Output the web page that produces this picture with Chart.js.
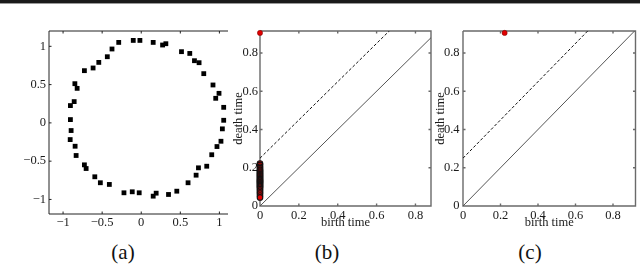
<!DOCTYPE html>
<html>
<head>
    <title>Point cloud and persistence diagrams</title>
    <script src="https://cdn.jsdelivr.net/npm/chart.js@4.4.0/dist/chart.umd.min.js"></script>
    <style>
        body {
            margin: 0;
            width: 640px;
            height: 268px;
            background: white;
            position: relative;
            overflow: hidden;
            font-family: "Liberation Serif", "Times New Roman", serif;
        }
        .topbar {
            position: absolute;
            left: 0; top: 0;
            width: 640px; height: 3px;
            background: #1a1a1a;
            border-bottom: 1px solid #9a9a9a;
        }
        canvas {
            position: absolute;
            top: 0;
        }
        .cap {
            position: absolute;
            top: 241px;
            width: 40px;
            text-align: center;
            font-size: 21px;
            line-height: 22px;
            color: #111;
        }
    </style>
</head>
<body>
    <div class="topbar"></div>
    <canvas id="chartA" width="235" height="230" style="left:0px"></canvas>
    <canvas id="chartB" width="209" height="230" style="left:231px"></canvas>
    <canvas id="chartC" width="207" height="230" style="left:433px"></canvas>
    <div class="cap" style="left:103px">(a)</div>
    <div class="cap" style="left:307px">(b)</div>
    <div class="cap" style="left:510px">(c)</div>

    <script>
        // (a) sampled points around the circle
        const cloudX = [-0.288, -0.102, -0.017, 0.153, 0.273, 0.315, 0.515, 0.621, 0.681, 0.740,
                        0.800, 0.918, 0.953, 0.995, 1.055, 1.055, 1.038, 1.020, 0.969, 0.902,
                        0.838, 0.732, 0.702, 0.599, 0.455, 0.349, 0.191, 0.153, -0.026, -0.115,
                        -0.221, -0.408, -0.523, -0.594, -0.705, -0.727, -0.833, -0.846, -0.909, -0.897,
                        -0.906, -0.906, -0.858, -0.820, -0.849, -0.727, -0.616, -0.543, -0.434, -0.374];
        const cloudY = [1.051, 1.077, 1.077, 1.051, 1.017, 1.034, 0.930, 0.907, 0.812, 0.786,
                        0.643, 0.495, 0.321, 0.386, 0.203, 0.034, -0.078, -0.240, -0.309, -0.416,
                        -0.566, -0.587, -0.683, -0.782, -0.892, -0.935, -0.918, -0.957, -0.913, -0.900,
                        -0.913, -0.804, -0.782, -0.704, -0.596, -0.548, -0.426, -0.305, -0.218, -0.100,
                        0.043, 0.226, 0.278, 0.451, 0.512, 0.682, 0.717, 0.790, 0.864, 0.965];

        // (b) dimension 0 intervals: all born at 0 (largest first, so the low one ends on top)
        const h0Deaths = [0.222, 0.215, 0.205, 0.198, 0.19, 0.185, 0.18, 0.175, 0.17, 0.165,
                          0.16, 0.155, 0.15, 0.145, 0.14, 0.136, 0.132, 0.128, 0.124, 0.12,
                          0.115, 0.11, 0.105, 0.1, 0.095, 0.088, 0.08, 0.072, 0.065, 0.055, 0.045];
        const h0InfBirth = [0];
        const h0InfDeath = [0.905];

        // (c) dimension 1 interval
        const h1Births = [0.222];
        const h1Deaths = [0.905];

        // reference lines in the diagrams
        const diagX = [0, 0.95];
        const diagY = [0, 0.95];
        const bandX = [0, 0.7];
        const bandY = [0.25, 0.95];

        const ticksA = [-1, -0.5, 0, 0.5, 1];
        const ticksPD = [0, 0.2, 0.4, 0.6, 0.8];

        const pts = (xs, ys) => xs.map((x, i) => ({x: x, y: ys[i]}));
        const fmt = v => String(v).replace('-', '\u2212');
        const serif = size => ({family: "'Liberation Serif', 'Times New Roman', serif", size: size});

        // axis box with small inward ticks, matlab style
        const frame = {
            id: 'frame',
            beforeDatasetsDraw(chart, args, opts) {
                const {ctx, chartArea: a, scales: {x, y}} = chart;
                ctx.save();
                ctx.strokeStyle = opts.color;
                ctx.lineWidth = opts.width;
                ctx.beginPath();
                ctx.moveTo(a.left, a.top);
                ctx.lineTo(a.left, a.bottom);
                ctx.lineTo(a.right, a.bottom);
                if (opts.right) ctx.lineTo(a.right, a.top);
                else ctx.moveTo(a.right, a.top);
                ctx.lineTo(a.left, a.top);
                x.ticks.forEach(t => {
                    const px = x.getPixelForValue(t.value);
                    ctx.moveTo(px, a.bottom); ctx.lineTo(px, a.bottom - 2.5);
                    ctx.moveTo(px, a.top); ctx.lineTo(px, a.top + 2.5);
                });
                y.ticks.forEach(t => {
                    const py = y.getPixelForValue(t.value);
                    ctx.moveTo(a.left, py); ctx.lineTo(a.left + 2.5, py);
                    if (opts.right) { ctx.moveTo(a.right, py); ctx.lineTo(a.right - 2.5, py); }
                });
                ctx.stroke();
                ctx.restore();
            }
        };

        function axis(min, max, ticks, size, pad, title) {
            return {
                type: 'linear',
                min: min,
                max: max,
                grid: {display: false, drawTicks: false},
                border: {display: false},
                ticks: {font: serif(12.5), color: '#1a1a1a', padding: pad, maxRotation: 0,
                        autoSkip: false, callback: fmt},
                title: title ? {display: true, text: title, font: serif(12.5), color: '#1a1a1a', padding: 0}
                             : {display: false},
                afterBuildTicks: s => { s.ticks = ticks.map(v => ({value: v})); },
                afterFit: s => { if (s.isHorizontal()) s.height = size; else s.width = size; }
            };
        }

        function baseOptions(right, frameOpts, scales) {
            return {
                responsive: false,
                animation: false,
                devicePixelRatio: 1,
                layout: {padding: {top: 31, right: right, left: 0, bottom: 0}},
                plugins: {legend: {display: false}, tooltip: {enabled: false}, frame: frameOpts},
                scales: scales
            };
        }

        function diagramLines() {
            return [{
                type: 'line',
                data: pts(diagX, diagY),
                borderColor: '#555',
                borderWidth: 1,
                pointRadius: 0,
                clip: 0
            }, {
                type: 'line',
                data: pts(bandX, bandY),
                borderColor: '#111',
                borderWidth: 1,
                borderDash: [3, 2],
                pointRadius: 0,
                clip: 0
            }];
        }

        new Chart(document.getElementById('chartA'), {
            type: 'scatter',
            data: {datasets: [{
                data: pts(cloudX, cloudY),
                pointStyle: 'rect',
                pointRadius: 3.4,
                backgroundColor: '#000',
                borderWidth: 0,
                clip: false
            }]},
            options: baseOptions(7, {color: '#222', width: 1, right: false}, {
                x: axis(-1.18, 1.11, ticksA, 16, 1),
                y: axis(-1.19, 1.2, ticksA, 49, 3)
            }),
            plugins: [frame]
        });

        new Chart(document.getElementById('chartB'), {
            type: 'scatter',
            data: {datasets: diagramLines().concat([{
                data: pts(h0Deaths.map(() => 0), h0Deaths),
                pointRadius: 2.8,
                backgroundColor: '#e00000',
                borderColor: '#111',
                borderWidth: 1.1,
                clip: false
            }, {
                data: pts(h0InfBirth, h0InfDeath),
                pointRadius: 2.6,
                backgroundColor: '#e00000',
                borderColor: '#700',
                borderWidth: 0.5,
                clip: false
            }])},
            options: baseOptions(9, {color: '#6a6a6a', width: 1.4, right: true}, {
                x: axis(0, 0.88, ticksPD, 24, 2, 'birth time'),
                y: axis(0, 0.915, ticksPD, 29, 2, 'death time')
            }),
            plugins: [frame]
        });

        new Chart(document.getElementById('chartC'), {
            type: 'scatter',
            data: {datasets: diagramLines().concat([{
                data: pts(h1Births, h1Deaths),
                pointRadius: 2.6,
                backgroundColor: '#e00000',
                borderColor: '#700',
                borderWidth: 0.5,
                clip: false
            }])},
            options: baseOptions(1, {color: '#6a6a6a', width: 1.4, right: true}, {
                x: axis(0, 0.92, ticksPD, 24, 2, 'birth time'),
                y: axis(0, 0.915, ticksPD, 30, 3.5, 'death time')
            }),
            plugins: [frame]
        });
    </script>
</body>
</html>
